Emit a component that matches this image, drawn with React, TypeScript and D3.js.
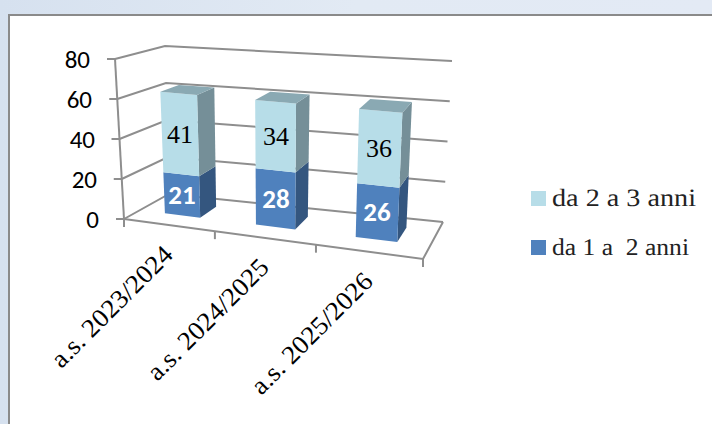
import React from "react";
import * as d3 from "d3";

const categories = ["a.s. 2023/2024", "a.s. 2024/2025", "a.s. 2025/2026"];
const lowerValues = [21, 28, 26];
const upperValues = [41, 34, 36];
const valueTicks = [0, 20, 40, 60, 80];
const legendItems = [
  { label: "da 2 a 3 anni", color: "#b7dde8", width: 144 },
  { label: "da 1 a\u00a0\u00a02 anni", color: "#4f81bd", width: 137 },
];

type Pt = [number, number];
// Projected box corners: floor and vertical (80-unit) vectors
const floorQuad = { fl: [124, 219] as Pt, fr: [423, 259] as Pt, bl: [169, 194] as Pt, br: [443, 222] as Pt };
const upQuad = { fl: [-9, -160] as Pt, fr: [8, -172] as Pt, bl: [-4, -148] as Pt, br: [9, -161] as Pt };

const lerp = (a: Pt, b: Pt, t: number): Pt => [a[0] + (b[0] - a[0]) * t, a[1] + (b[1] - a[1]) * t];
const bilinear = (q: typeof floorQuad, u: number, v: number) => lerp(lerp(q.fl, q.fr, u), lerp(q.bl, q.br, u), v);

const bandToU = d3.scaleLinear().domain([0, 1, 2, 3]).range([0, 0.304, 0.642, 1]);
const heightScale = d3.scaleLinear().domain([0, 80]).range([0, 1]);

function project(band: number, depth: number, value: number): Pt {
  const u = bandToU(band);
  const base = bilinear(floorQuad, u, depth);
  const vec = bilinear(upQuad, u, depth);
  const w = heightScale(value);
  return [base[0] + vec[0] * w, base[1] + vec[1] * w];
}

const linePath = d3.line<Pt>();
const closed = (pts: Pt[]) => linePath(pts) + "Z";

const FRONT = 0.35;
const BACK = 0.75;
const GRID = "#8e8e8e";
const SERIF = "Liberation Serif";
const SANS = "Carlito";

function Segment({ i, from, to, front, side, top }: { i: number; from: number; to: number; front: string; side: string; top?: string }) {
  const a = i + 0.285;
  const b = i + 0.685;
  return (
    <g>
      <path d={closed([project(b, FRONT, from), project(b, BACK, from), project(b, BACK, to), project(b, FRONT, to)])} fill={side} />
      <path d={closed([project(a, FRONT, from), project(b, FRONT, from), project(b, FRONT, to), project(a, FRONT, to)])} fill={front} />
      {top && <path d={closed([project(a, FRONT, to), project(b, FRONT, to), project(b, BACK, to), project(a, BACK, to)])} fill={top} />}
    </g>
  );
}

export default function App() {
  return (
    <svg width={712} height={424} style={{ position: "absolute", left: 0, top: 0 }}>
      <defs>
        <linearGradient id="bg" x1="0" x2="1" y1="0" y2="0">
          <stop offset="0" stopColor="#d6e1ef" />
          <stop offset="0.5" stopColor="#e2eaf4" />
          <stop offset="1" stopColor="#e3eaf5" />
        </linearGradient>
      </defs>
      <rect width={712} height={424} fill="url(#bg)" />
      <rect x={9} y={15} width={720} height={430} fill="#fff" stroke="#8a8a8a" strokeWidth={2} />

      <g fill="none" stroke={GRID} strokeWidth={2}>
        {valueTicks.map((t) => (
          <path key={t} d={linePath([project(0, 0, t), project(0, 1, t), project(3, 1, t)])!} />
        ))}
        <path d={linePath([project(0, 0, 0), project(3, 0, 0), project(3, 1, 0)])!} />
        <path d={linePath([project(0, 0, 0), project(0, 0, 80)])!} />
        {valueTicks.map((t) => {
          const p = project(0, 0, t);
          return <path key={t} d={linePath([p, [p[0] - 8, p[1]]])!} />;
        })}
        {[0, 1, 2, 3].map((b) => {
          const p = project(b, 0, 0);
          return <path key={b} d={linePath([p, [p[0], p[1] + 8]])!} />;
        })}
      </g>

      {valueTicks.map((t) => {
        const p = project(0, 0, t);
        return (
          <text key={t} x={Math.round(p[0] - 25)} y={Math.round(p[1] + 9)} textAnchor="end" fontFamily={SANS} fontSize={25} fill="#000">
            {t}
          </text>
        );
      })}

      {categories.map((c, i) => {
        const lo = lowerValues[i];
        const hi = lo + upperValues[i];
        const cx = i + 0.485;
        const loC = project(cx, FRONT, lo / 2);
        const hiC = project(cx, FRONT, lo + upperValues[i] / 2);
        return (
          <g key={c}>
            <Segment i={i} from={0} to={lo} front="#4f81bd" side="#34567f" />
            <Segment i={i} from={lo} to={hi} front="#b7dde8" side="#758f98" top="#8aa9b3" />
            <text x={Math.round(loC[0])} y={Math.round(loC[1] + 9)} textAnchor="middle" fontFamily={SANS} fontWeight={700} fontSize={27} fill="#fff">
              {lo}
            </text>
            <text x={Math.round(hiC[0])} y={Math.round(hiC[1] + 9)} textAnchor="middle" fontFamily={SERIF} fontSize={26} fill="#000">
              {upperValues[i]}
            </text>
          </g>
        );
      })}

      {categories.map((c, i) => {
        const p = project(i + 0.5, 0, 0);
        return (
          <text
            key={c}
            transform={`translate(${p[0] + 5},${p[1] + 31}) rotate(-45)`}
            textAnchor="end"
            fontFamily={SERIF}
            fontSize={26}
            textLength={160}
            lengthAdjust="spacingAndGlyphs"
            textRendering="geometricPrecision"
            fill="#000"
          >
            {c}
          </text>
        );
      })}

      {legendItems.map((d, i) => {
        const y = d3.scaleLinear().domain([0, 1]).range([191, 240])(i);
        return (
          <g key={d.label}>
            <rect x={531} y={y} width={15} height={15} fill={d.color} />
            <text
              x={552}
              y={y + 15}
              fontFamily={SERIF}
              fontSize={i === 0 ? 25 : 24}
              textLength={d.width}
              lengthAdjust="spacingAndGlyphs"
              textRendering="geometricPrecision"
              fill="#222"
            >
              {d.label}
            </text>
          </g>
        );
      })}
    </svg>
  );
}
